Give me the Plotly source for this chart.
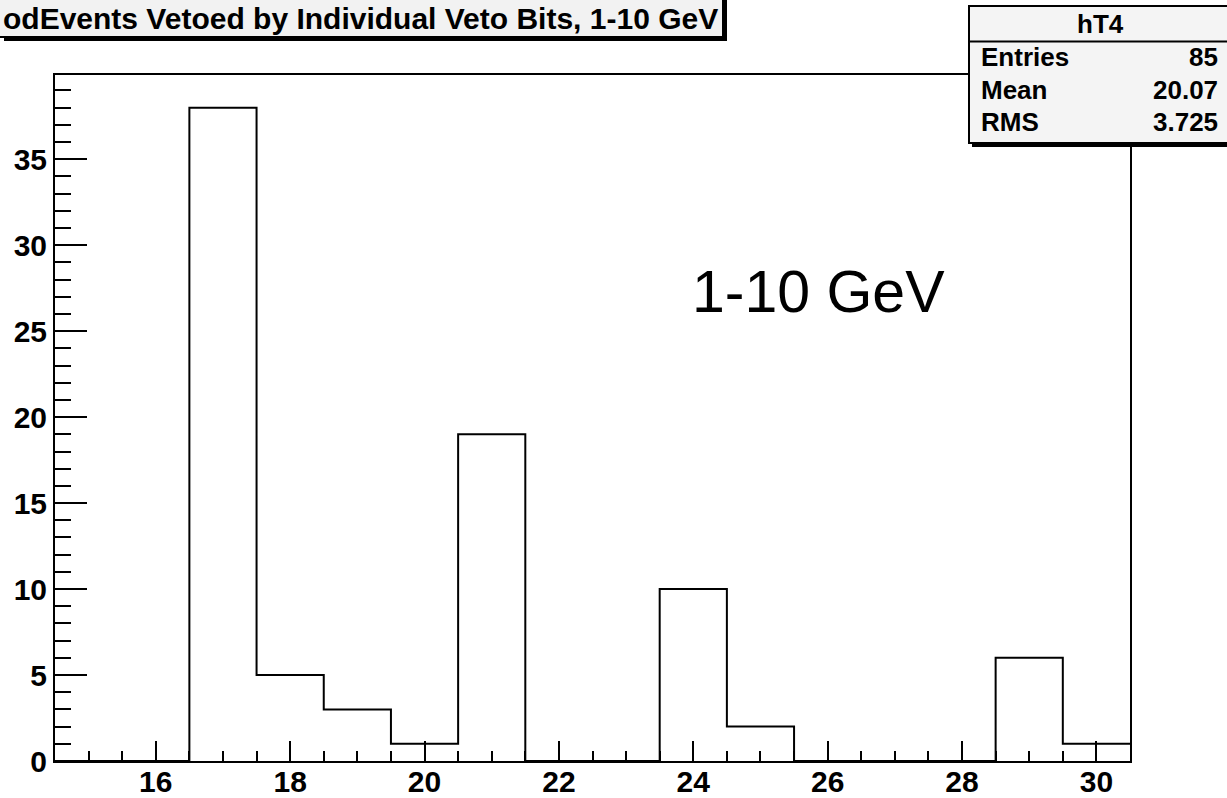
import plotly.graph_objects as go

# ---- data ----
bin_centers = [15, 16, 17, 18, 19, 20, 21, 22, 23, 24, 25, 26, 27, 28, 29, 30]
counts = [0, 0, 38, 5, 3, 1, 19, 0, 0, 10, 2, 0, 0, 0, 6, 1]
x_tick_vals = [16, 18, 20, 22, 24, 26, 28, 30]
y_tick_vals = [0, 5, 10, 15, 20, 25, 30, 35]
title_text = "odEvents Vetoed by Individual Veto Bits, 1-10 GeV"
stats_name = "hT4"
stats_labels = ["Entries", "Mean", "RMS"]
stats_values = ["85", "20.07", "3.725"]
overlay_text = "1-10 GeV"

W, H = 1227, 798
ML, MR, MT, MB = 55, 97, 75, 37
PW, PH = W - ML - MR, H - MT - MB


def px(x):
    return (x - ML) / PW


def py(y):
    return (H - MB - y) / PH


# step outline of the histogram from bin edges
half = 0.5
edges = [c - half for c in bin_centers] + [bin_centers[-1] + half]
step_y = counts + [counts[-1]]

fig = go.Figure()
fig.add_trace(go.Scatter(
    x=edges, y=step_y, mode="lines", line=dict(shape="hv", color="black", width=2),
    hoverinfo="skip", showlegend=False, cliponaxis=False,
))

FONT = "Liberation Sans, Arial, sans-serif"
axis_common = dict(
    showgrid=False, zeroline=False, showline=True, linecolor="black", linewidth=2,
    mirror=True, ticks="inside", tickcolor="black", tickwidth=2,
    tickfont=dict(family=FONT, size=30, color="black", weight="bold"),
)
fig.update_xaxes(
    range=[edges[0], edges[-1]], tickvals=x_tick_vals, ticklen=20, ticklabelstandoff=-7,
    minor=dict(dtick=0.5, tick0=0, ticklen=10, tickcolor="black", tickwidth=2, ticks="inside"),
    **axis_common,
)
fig.update_yaxes(
    range=[0, max(counts) * 1.05], tickvals=y_tick_vals, ticklen=32,
    minor=dict(dtick=1, tick0=0, ticklen=16, tickcolor="black", tickwidth=2, ticks="inside"),
    **axis_common,
)

shapes = []
# title box with shadow
shapes.append(dict(type="rect", xref="paper", yref="paper", x0=px(4), x1=px(727), y0=py(41), y1=py(-10),
                   fillcolor="black", line=dict(width=0), layer="above"))
shapes.append(dict(type="rect", xref="paper", yref="paper", x0=px(-10), x1=px(723), y0=py(37), y1=py(-10),
                   fillcolor="#f2f2f2", line=dict(color="black", width=2), layer="above"))
# stats box with shadow
shapes.append(dict(type="rect", xref="paper", yref="paper", x0=px(972), x1=px(1245), y0=py(147), y1=py(10),
                   fillcolor="black", line=dict(width=0), layer="above"))
shapes.append(dict(type="rect", xref="paper", yref="paper", x0=px(969), x1=px(1240), y0=py(143), y1=py(6),
                   fillcolor="#f4f4f4", line=dict(color="black", width=2), layer="above"))
shapes.append(dict(type="line", xref="paper", yref="paper", x0=px(969), x1=px(1240), y0=py(41.5), y1=py(41.5),
                   line=dict(color="black", width=2), layer="above"))

annotations = []
annotations.append(dict(xref="paper", yref="paper", x=px(720), y=py(19), xanchor="right", yanchor="middle",
                        text=title_text, showarrow=False,
                        font=dict(family=FONT, size=30, color="black", weight="bold")))
annotations.append(dict(xref="paper", yref="paper", x=px(1100), y=py(24), xanchor="center", yanchor="middle",
                        text=stats_name, showarrow=False,
                        font=dict(family=FONT, size=26, color="black", weight="bold")))
row_y = [57, 90, 122]
for lab, val, yy in zip(stats_labels, stats_values, row_y):
    annotations.append(dict(xref="paper", yref="paper", x=px(979), y=py(yy), xanchor="left", yanchor="middle",
                            text=lab, showarrow=False,
                            font=dict(family=FONT, size=26, color="black", weight="bold")))
    annotations.append(dict(xref="paper", yref="paper", x=px(1220), y=py(yy), xanchor="right", yanchor="middle",
                            text=val, showarrow=False,
                            font=dict(family=FONT, size=26, color="black", weight="bold")))
annotations.append(dict(xref="paper", yref="paper", x=px(690), y=py(292), xanchor="left", yanchor="middle",
                        text=overlay_text, showarrow=False,
                        font=dict(family=FONT, size=59, color="black")))

fig.update_layout(
    width=W, height=H, margin=dict(l=ML, r=MR, t=MT, b=MB, autoexpand=False),
    paper_bgcolor="white", plot_bgcolor="white",
    shapes=shapes, annotations=annotations, showlegend=False,
)

fig.write_html("out.html")
